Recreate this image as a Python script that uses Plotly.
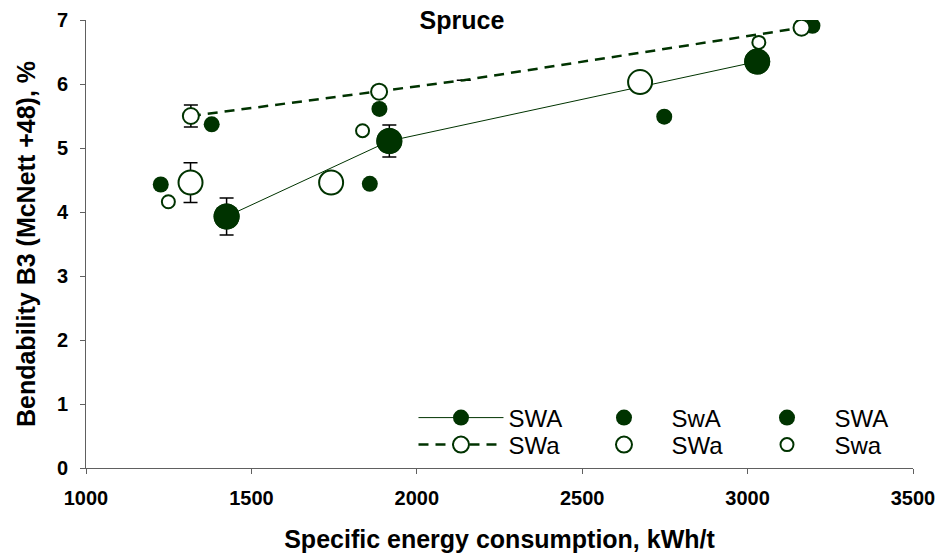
import plotly.graph_objects as go

GREEN = "#003300"

# Series data (x: specific energy consumption kWh/t, y: bendability %)
swa_line_x = [1425, 1917, 3029]
swa_line_y = [3.93, 5.11, 6.35]
swa_line_err = [0.29, 0.25, 0.0]

swa_dash_x = [1317, 1886, 2142, 3163]
swa_dash_y = [5.50, 5.88, 6.06, 6.88]
swa_dash_err = [0.17, 0.0, 0.0, 0.0]
swa_dash_visible = [True, True, False, True]

swA_small_x = [1226, 1380, 1887, 1858, 2748, 3196]
swA_small_y = [4.43, 5.37, 5.61, 4.44, 5.49, 6.91]

SWa_big_x = [1316, 1741, 2675]
SWa_big_y = [4.46, 4.46, 6.03]
SWa_big_err = [0.31, 0.0, 0.0]

Swa_small_x = [1249, 1836, 3034]
Swa_small_y = [4.16, 5.27, 6.65]

x_ticks = [1000, 1500, 2000, 2500, 3000, 3500]
y_ticks = [0, 1, 2, 3, 4, 5, 6, 7]

err_style = dict(type="data", color="black", thickness=1.5, width=7)

fig = go.Figure()

# Row 1 of legend
fig.add_trace(go.Scatter(
    x=swa_line_x, y=swa_line_y, mode="lines+markers", name="SWA",
    line=dict(color=GREEN, width=1),
    marker=dict(symbol="circle", size=26, color=GREEN),
    legend="legend"))
fig.add_trace(go.Scatter(
    x=swA_small_x, y=swA_small_y, mode="markers", name="SwA",
    marker=dict(symbol="circle", size=16, color=GREEN),
    legend="legend"))
fig.add_trace(go.Scatter(
    x=swa_line_x, y=swa_line_y, mode="markers", name="SWA",
    marker=dict(symbol="circle", size=26, color=GREEN),
    error_y=dict(array=swa_line_err, **err_style),
    legend="legend"))

# Row 2 of legend
fig.add_trace(go.Scatter(
    x=swa_dash_x, y=swa_dash_y, mode="lines+markers", name="SWa",
    line=dict(color=GREEN, width=2.5, dash="10px,7px"),
    marker=dict(symbol="circle", size=16,
                color=["white" if v else "rgba(0,0,0,0)" for v in swa_dash_visible],
                line=dict(color=[GREEN if v else "rgba(0,0,0,0)" for v in swa_dash_visible], width=2)),
    error_y=dict(array=swa_dash_err, **err_style),
    legend="legend2"))
fig.add_trace(go.Scatter(
    x=SWa_big_x, y=SWa_big_y, mode="markers", name="SWa",
    marker=dict(symbol="circle", size=24, color="white", line=dict(color=GREEN, width=2)),
    error_y=dict(array=SWa_big_err, **err_style),
    legend="legend2"))
fig.add_trace(go.Scatter(
    x=Swa_small_x, y=Swa_small_y, mode="markers", name="Swa",
    marker=dict(symbol="circle", size=13, color="white", line=dict(color=GREEN, width=2)),
    legend="legend2"))

FONT = "Liberation Sans, Arial, sans-serif"
AXC = "#606060"
leg_common = dict(orientation="h", bgcolor="rgba(0,0,0,0)", borderwidth=0,
                  font=dict(family=FONT, size=24, color="black"),
                  itemwidth=85, entrywidth=63, entrywidthmode="pixels",
                  xanchor="left", yanchor="middle", itemclick=False, traceorder="normal")

# plot area: x 86..913, y 20..468  (h = 448)
fig.update_layout(
    width=938, height=554,
    margin=dict(l=86, r=25, t=20, b=86, autoexpand=False),
    paper_bgcolor="white", plot_bgcolor="white",
    font=dict(family=FONT, color="black"),
    title=dict(text="<b>Spruce</b>", x=462/938, xanchor="center", y=1 - 20/554, yanchor="middle",
               font=dict(family=FONT, size=25, color="black")),
    showlegend=True,
    legend=dict(x=0.396, y=(468 - 418) / 448, **leg_common),
    legend2=dict(x=0.396, y=(468 - 445) / 448, **leg_common),
    xaxis=dict(range=[1000, 3500], tickvals=x_ticks, ticktext=[str(v) for v in x_ticks],
               automargin=False,
               showgrid=False, zeroline=False, showline=True, linecolor=AXC, linewidth=1,
               ticks="outside", ticklen=5, tickcolor=AXC,
               tickfont=dict(family=FONT, size=20, color="black", weight="bold"),
               ticklabelstandoff=7,
               title=dict(text="<b>Specific energy consumption, kWh/t</b>",
                          font=dict(family=FONT, size=25, color="black"), standoff=22)),
    yaxis=dict(range=[0, 7], tickvals=y_ticks, ticktext=[str(v) for v in y_ticks],
               automargin=False,
               showgrid=False, zeroline=False, showline=True, linecolor=AXC, linewidth=1,
               ticks="outside", ticklen=5, tickcolor=AXC,
               tickfont=dict(family=FONT, size=20, color="black", weight="bold"),
               ticklabelstandoff=8,
               title=dict(text="<b>Bendability B3 (McNett +48), %</b>",
                          font=dict(family=FONT, size=25, color="black"), standoff=14)),
)

fig.write_html("out.html")
